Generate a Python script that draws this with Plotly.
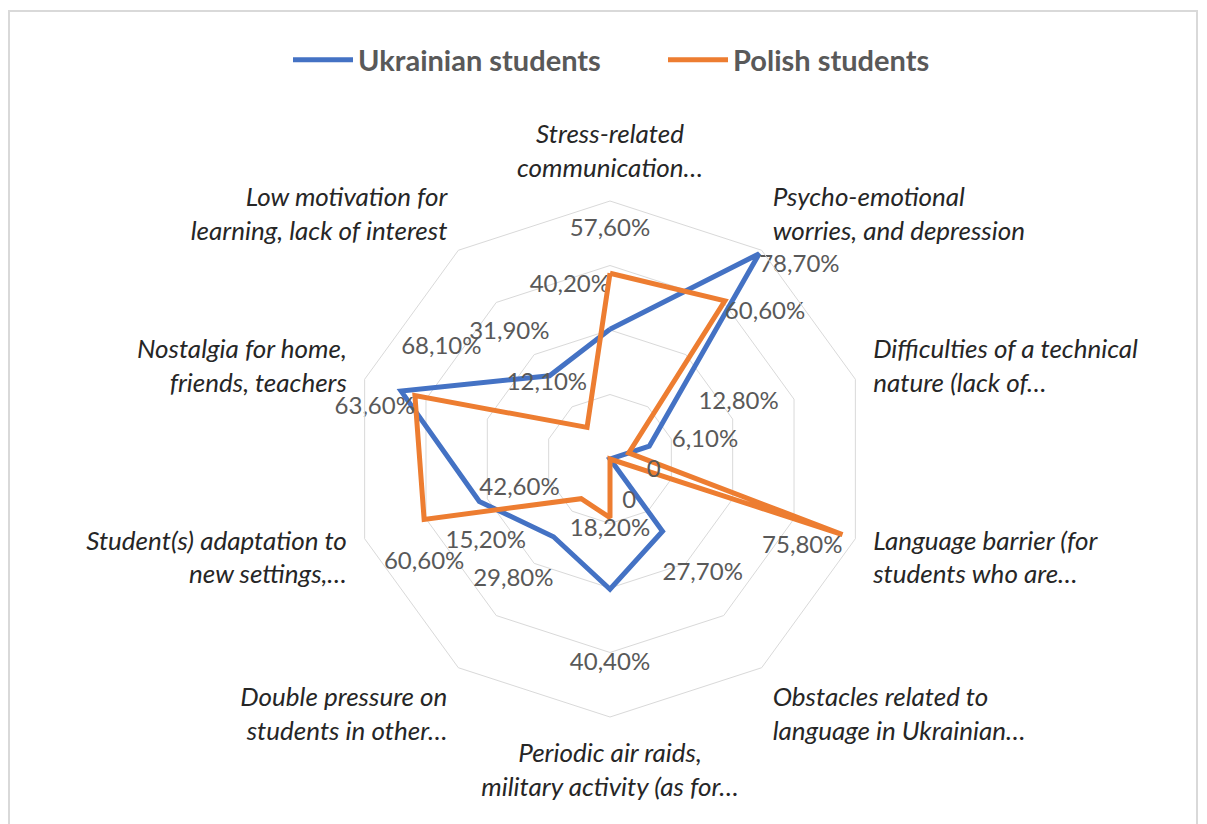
import plotly.graph_objects as go

categories = [
    "Stress-related communication…",
    "Psycho-emotional worries, and depression",
    "Difficulties of a technical nature (lack of…",
    "Language barrier (for students who are…",
    "Obstacles related to language in Ukrainian…",
    "Periodic air raids, military activity (as for…",
    "Double pressure on students in other…",
    "Student(s) adaptation to new settings,…",
    "Nostalgia for home, friends, teachers",
    "Low motivation for learning, lack of interest",
]
tick_labels = [
    "Stress-related<br>communication…",
    "Psycho-emotional<br>worries, and depression",
    "Difficulties of a technical<br>nature (lack of…",
    "Language barrier (for<br>students who are…",
    "Obstacles related to<br>language in Ukrainian…",
    "Periodic air raids,<br>military activity (as for…",
    "Double pressure on<br>students in other…",
    "Student(s) adaptation to<br>new settings,…",
    "Nostalgia for home,<br>friends, teachers",
    "Low motivation for<br>learning, lack of interest",
]
ukrainian = [40.2, 78.7, 12.8, 0, 27.7, 40.4, 29.8, 42.6, 68.1, 31.9]
polish = [57.6, 60.6, 6.1, 75.8, 0, 18.2, 15.2, 60.6, 63.6, 12.1]
series_names = ["Ukrainian students", "Polish students"]

# label placement styles: position keyword, (blank lines above(+)/below(-), side padding)
ukr_textpos = ["top left", "bottom right", "top right", "bottom right", "bottom right",
               "bottom center", "bottom left", "top right", "top right", "top left"]
ukr_pad = [(1, 0), (0, 0), (1, 8), (0, 6), (-1, 0),
           (-2, 0), (-1, 0), (0, 0), (1, 0), (1, 0)]
pol_textpos = ["top center", "bottom right", "top right", "bottom left", "bottom right",
               "bottom center", "bottom left", "bottom center", "bottom left", "top left"]
pol_pad = [(1, 0), (0, 0), (0, 7), (0, 0), (-1, 2),
           (0, 0), (-1, -9), (-1, 0), (0, 0), (1, 0)]

NB = "\u00a0"


def label(v):
    if v == 0:
        return "0"
    return f"{v:.1f}".replace(".", ",") + "0%"


def styled(v, pad):
    lines, n = pad
    t = label(v)
    if n > 0:
        t = NB * n + t
    elif n < 0:
        t = t + NB * (-n)
    if lines > 0:
        t = t + ("<br>" + NB) * lines
    elif lines < 0:
        t = (NB + "<br>") * (-lines) + t
    return t


BLUE = "#4472C4"
ORANGE = "#ED7D31"
LABEL_FONT = dict(family="Lato, Open Sans, sans-serif", size=24, color="#595959")

fig = go.Figure()
for name, vals, color, tp, pads in [
    (series_names[0], ukrainian, BLUE, ukr_textpos, ukr_pad),
    (series_names[1], polish, ORANGE, pol_textpos, pol_pad),
]:
    texts = [styled(v, p) for v, p in zip(vals, pads)]
    # main line with labels for the non-zero values
    fig.add_trace(go.Scatterpolar(
        r=vals + vals[:1],
        theta=categories + categories[:1],
        name=name,
        mode="lines+text",
        text=[t if v != 0 else "" for t, v in zip(texts, vals)] + [""],
        textposition=tp + ["middle center"],
        textfont=LABEL_FONT,
        line=dict(color=color, width=5),
        cliponaxis=False,
        subplot="polar",
    ))
    # labels of the zero values (at the centre), drawn on an overlaid circular polar
    fig.add_trace(go.Scatterpolar(
        r=vals,
        theta=categories,
        mode="text",
        text=[t if v == 0 else "" for t, v in zip(texts, vals)],
        textposition=tp,
        textfont=LABEL_FONT,
        showlegend=False,
        hoverinfo="skip",
        cliponaxis=False,
        subplot="polar2",
    ))

W, H = 1207, 824
cx, cy, R = 602, 451, 258
domain = dict(
    x=[(cx - R) / W, (cx + R) / W],
    y=[(H - cy - R) / H, (H - cy + R) / H],
)

fig.update_layout(
    width=W, height=H,
    margin=dict(l=0, r=0, t=0, b=0),
    paper_bgcolor="white",
    plot_bgcolor="white",
    showlegend=True,
    legend=dict(
        orientation="h",
        x=280 / W, xanchor="left",
        y=1 - 52 / H, yanchor="middle",
        font=dict(family="Lato, Open Sans, sans-serif", size=29, color="#595959", weight="bold"),
        itemwidth=60,
        entrywidth=300,
        tracegroupgap=0,
        bgcolor="rgba(0,0,0,0)",
    ),
    polar=dict(
        domain=domain,
        bgcolor="white",
        gridshape="linear",
        radialaxis=dict(
            range=[0, 80],
            tickvals=[20, 40, 60, 80],
            showticklabels=False,
            ticks="",
            showline=False,
            gridcolor="#d9d9d9",
            gridwidth=1,
        ),
        angularaxis=dict(
            rotation=90,
            direction="clockwise",
            tickvals=categories,
            ticktext=tick_labels,
            tickfont=dict(family="Lato, Open Sans, sans-serif", size=26, color="#262626", style="italic"),
            showgrid=False,
            ticks="outside",
            ticklen=13,
            tickcolor="rgba(0,0,0,0)",
            showline=True,
            linecolor="#d9d9d9",
            linewidth=1,
        ),
    ),
    polar2=dict(
        domain=domain,
        bgcolor="rgba(0,0,0,0)",
        gridshape="circular",
        radialaxis=dict(range=[0, 80], visible=False),
        angularaxis=dict(
            rotation=90,
            direction="clockwise",
            categoryorder="array",
            categoryarray=categories,
            visible=False,
        ),
    ),
    shapes=[dict(
        type="rect", xref="paper", yref="paper",
        x0=1 / W, x1=1189 / W, y0=-0.05, y1=1 - 3 / H,
        line=dict(color="#d9d9d9", width=2),
        fillcolor="rgba(0,0,0,0)",
        layer="below",
    )],
)

fig.write_html("out.html")
